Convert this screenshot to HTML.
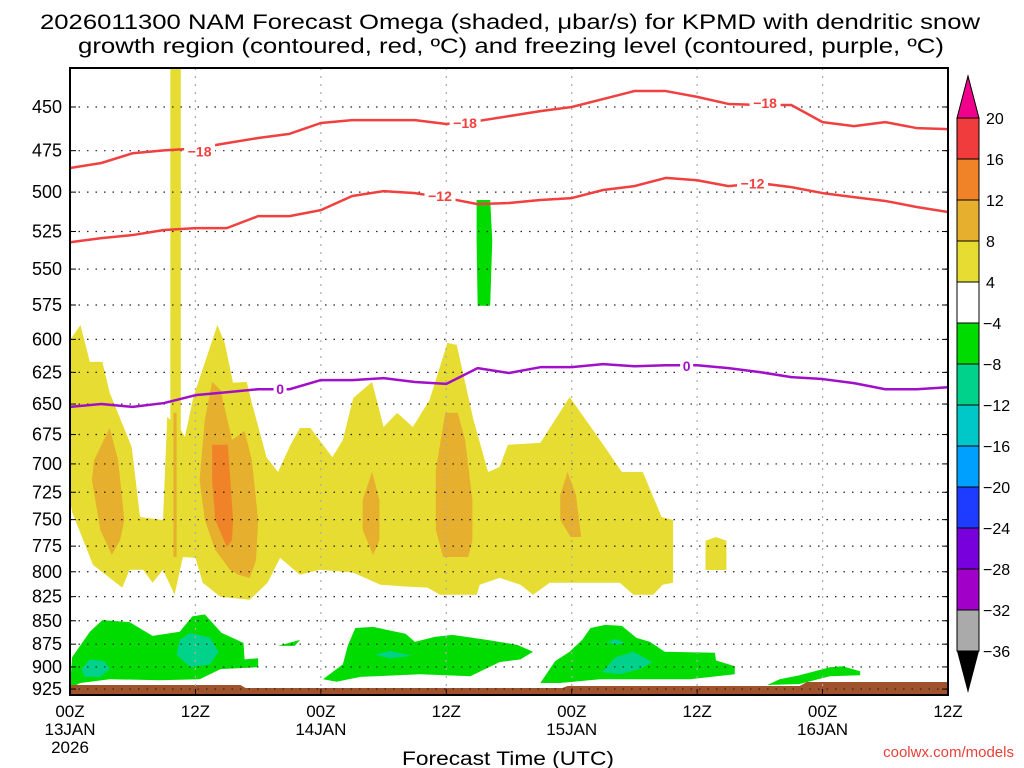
<!DOCTYPE html>
<html><head><meta charset="utf-8"><style>
body{margin:0;background:#fff;width:1024px;height:768px;overflow:hidden;font-family:"Liberation Sans",sans-serif}
svg{display:block}
</style></head><body>
<svg id="chart" width="1024" height="768">
<text x="510" y="29" font-size="21" text-anchor="middle" textLength="940" lengthAdjust="spacingAndGlyphs">2026011300 NAM Forecast Omega (shaded, μbar/s) for KPMD with dendritic snow</text>
<text x="511" y="53" font-size="21" text-anchor="middle" textLength="866" lengthAdjust="spacingAndGlyphs">growth region (contoured, red, ºC) and freezing level (contoured, purple, ºC)</text>
<g id="plot"></g>
<g id="axes"></g>
<g id="cbar"></g>
<text x="508" y="765" font-size="19" text-anchor="middle" textLength="212" lengthAdjust="spacingAndGlyphs">Forecast Time (UTC)</text>
<text x="1014" y="757" font-size="15" text-anchor="end" fill="#e8403a">coolwx.com/models</text>
</svg>
<script>
// ---- data ----
const pTicks=[450,475,500,525,550,575,600,625,650,675,700,725,750,775,800,825,850,875,900,925];
const xTickHours=[0,12,24,36,48,60,72,84];
const xTickTop=["00Z","12Z","00Z","12Z","00Z","12Z","00Z","12Z"];
const xTickMid=["13JAN","","14JAN","","15JAN","","16JAN",""];
const xTickBot=["2026","","","","","","",""];
const lineHours=[0,3,6,9,12,15,18,21,24,27,30,33,36,39,42,45,48,51,54,57,60,63,66,69,72,75,78,81,84];
const t18=[485.3,482.3,476.5,474.8,473.7,470.6,467.6,465.2,459.0,457.4,457.4,457.4,459.6,457.9,455.1,452.3,450,445.6,441.2,441.2,444.4,448.3,448.9,448.9,458.5,460.8,458.5,461.9,462.5];
const t12=[532.0,529.3,527.3,524.0,522.8,522.8,515.1,515.1,511.3,502.4,499.4,500.6,503.7,507.5,506.8,504.9,503.7,498.7,496.3,491.3,492.7,496.3,494.5,496.9,500.6,503.1,505.5,509.3,512.5];
const t0=[652.3,650.0,652.3,649.2,642.9,640.6,638.2,638.2,631.0,631.0,629.5,632.5,634.0,621.7,625.5,621.0,621.0,618.7,620.3,619.5,619.5,621.7,624.8,628.7,630.2,633.4,638.2,638.2,636.6];
const labels18=[[12.4,475.5],[37.8,459.0],[66.5,447.9]];
const labels12=[[35.4,502.4],[65.3,494.6]];
const labels0=[[20.1,638.1],[59,620.0]];
const levels=[20,16,12,8,4,-4,-8,-12,-16,-20,-24,-28,-32,-36];
const levelColors=["#f03c3c","#f08228","#e6af2d","#e6dc32","#ffffff","#00dc00","#00d28c","#00c8c8","#00a0ff","#1e3cff","#7800dc","#a000c8","#aaaaaa"];
const yellowMain=[[0,600.5],[1,589.4],[1.9,616.9],[3.1,616.9],[3.8,641.1],[5.9,685.4],[6.7,747.5],[8.9,750.3],[9.3,660.4],[9.6,662.9],[9.6,425],[10.6,425],[10.6,671.2],[11,677.0],[11.8,644.4],[14.1,589.4],[14.8,602.6],[15.6,633.1],[16.9,632.4],[17.5,652.3],[18.8,694.3],[19.9,707.0],[21.1,683.6],[22,669.6],[23,669.6],[25.1,694.3],[26.1,679.6],[27.1,645.2],[28.9,632.4],[30,668.7],[31.3,657.1],[32.8,668.7],[34.4,646.7],[36.1,602.6],[37,604.1],[38.6,662.9],[40,707.0],[41.1,702.7],[41.9,683.6],[45,682.0],[47.8,644.4],[50.7,679.6],[52.8,707.0],[54.8,707.0],[56.6,747.5],[57.7,750.3],[57.7,811.0],[56.7,812.9],[55.8,823.1],[53.9,823.1],[52.6,811.0],[45.9,811.0],[44.3,823.1],[43.1,812.9],[41.1,806.1],[39.2,812.9],[38.9,823.1],[35.4,823.1],[34.2,815.8],[32.2,814.8],[29.7,812.9],[27.1,800.9],[23.9,798.0],[22,803.0],[20.1,786.4],[18.9,811.0],[17.2,828.2],[14.4,825.2],[12.7,811.0],[12,786.4],[10.8,785.5],[10,823.1],[8.9,798.0],[7.9,811.0],[7,798.0],[5.7,798.0],[5,815.8],[2.2,793.2],[0.2,742.9],[0,732.0]];
const yellowSmall=[[60.8,798.2],[60.8,769.8],[61.8,766.3],[62.8,769.8],[62.8,798.2]];
const orangeA=[[3.8,669.6],[4.6,696.8],[5.2,750.3],[4.8,769.1],[4,783.6],[2.9,759.6],[2.1,714.1],[2.3,696.8]];
const orangeB=[[9.9,657.1],[10.2,657.1],[10.2,785.5],[9.9,785.5]];
const orangeC=[[13.6,632.4],[14.4,638.9],[15.5,679.6],[16.7,672.0],[17.4,696.8],[18,750.3],[17.8,788.5],[17.2,806.1],[16.1,803.0],[15.3,798.0],[13.9,778.7],[12.9,750.3],[12.4,714.1],[12.9,662.9]];
const darkOrangeD=[[13.6,683.6],[15.1,683.6],[15.6,750.3],[15.5,769.1],[15,775.7],[13.9,750.3],[13.6,714.1]];
const orangeE=[[28.9,707.0],[29.6,732.0],[29.6,769.1],[29,783.6],[28,759.6],[28,732.0]];
const orangeF=[[35.9,657.1],[37.1,657.1],[37.8,679.6],[38.5,732.0],[38.5,769.1],[38.1,785.5],[35.7,785.5],[35,759.6],[35,705.3]];
const orangeG=[[47.6,707.0],[48.4,727.5],[48.9,766.3],[47.9,766.3],[46.9,750.3],[46.9,727.5]];
const greenCol=[[38.9,504.9],[40.2,504.9],[40.4,530.8],[40.2,575.5],[39,575.5],[38.9,530.8]];
const green1=[[0.2,889.3],[1.9,861.7],[3.1,849.4],[5.7,851.4],[7.9,866.1],[10.5,861.7],[11.7,845.4],[12.9,843.3],[14.5,862.8],[16.6,873.6],[16.7,891.6],[18,890.4],[18,900.3],[14.4,902.5],[12.4,913.8],[8.6,914.9],[3.8,913.8],[1,918.1],[0,923.8]];
const teal1=[[1.9,891.6],[3.3,893.7],[3.8,902.5],[2.9,911.2],[1.4,911.2],[1.1,902.5]];
const teal2=[[11.5,862.8],[13.4,868.2],[14.2,883.3],[13.4,897.1],[11.5,900.3],[10.2,886.6],[10.5,870.3]];
const greenBlip=[[19.9,876.8],[22,870.4],[21.5,876.8]];
const green2=[[24.2,913.8],[26.1,897.1],[26.6,875.7],[27.3,857.6],[29,856.5],[32.1,863.8],[33,872.5],[34.9,867.1],[36.6,865.0],[39.9,870.4],[42.8,875.7],[44.3,883.3],[43.1,891.6],[41.1,894.7],[38.3,910.5],[33.5,908.2],[27.8,911.2],[25.5,916.6]];
const teal2b=[[29.2,886.6],[30.6,882.4],[32.7,887.7],[30.6,890.4]];
const green3=[[45,918.1],[46.4,893.7],[47.8,883.3],[49,870.4],[49.8,857.6],[51.2,854.4],[52.8,855.4],[54.2,868.2],[55.5,872.5],[56.9,883.3],[61.7,884.3],[61.8,892.7],[63.6,899.2],[63.6,908.2],[59.3,913.8],[50.7,913.8],[46.9,918.1]];
const teal3=[[51.4,872.5],[52.2,869.4],[53.1,873.6],[52.2,875.7]];
const teal4=[[50.9,905.8],[52.2,889.3],[53.9,883.3],[55.7,894.7],[54.5,902.5],[52.6,908.2]];
const green4=[[66.7,920.3],[67.9,913.8],[69.8,909.3],[72.7,900.3],[73.9,899.2],[75.6,904.8],[75.6,909.3],[72.7,910.5],[69.8,919.2]];
const ground=[[0,920.4],[16.3,920.4],[16.8,923.8],[47.1,923.8],[47.6,921.5],[69.8,921.5],[70.5,917.0],[84,917.0],[84,935],[0,935]];

// ---- axes ----
const X0=70,X1=948,H=84,Y0=68,Y1=695;
const x=h=>X0+h*(X1-X0)/H;
const y=p=>107+807.8*Math.log(p/450);
const NS='http://www.w3.org/2000/svg';
function mk(tag,parent){const e=document.createElementNS(NS,tag);parent.appendChild(e);return e;}
const plot=document.getElementById('plot'),axes=document.getElementById('axes'),cbar=document.getElementById('cbar');
const clip=mk('clipPath',plot);clip.setAttribute('id','pc');
const cr=mk('rect',clip);cr.setAttribute('x',X0);cr.setAttribute('y',Y0);cr.setAttribute('width',X1-X0);cr.setAttribute('height',Y1-Y0);
const g=mk('g',plot);g.setAttribute('clip-path','url(#pc)');
function poly(pts,fill,name){const e=mk('polygon',g);e.setAttribute('points',pts.map(q=>x(q[0])+','+y(q[1])).join(' '));e.setAttribute('fill',fill);

return e;}
poly(yellowMain,levelColors[3],'omega-4-8-main');
poly(yellowSmall,levelColors[3],'omega-4-8-small');
[orangeA,orangeB,orangeC,orangeE,orangeF,orangeG].forEach((r,i)=>poly(r,levelColors[2],'omega-8-12-region-'+i));
poly(darkOrangeD,levelColors[1],'omega-12-16-region');
poly(greenCol,levelColors[5],'omega-neg4-upper');
[green1,greenBlip,green2,green3,green4].forEach((r,i)=>poly(r,levelColors[5],'omega-neg4-region-'+i));
[teal1,teal2,teal2b,teal3,teal4].forEach((r,i)=>poly(r,levelColors[6],'omega-neg8-region-'+i));
poly(ground,'#a0522d','ground');
// grid
pTicks.forEach(p=>{const l=mk('line',g);l.setAttribute('x1',X0);l.setAttribute('x2',X1);l.setAttribute('y1',y(p));l.setAttribute('y2',y(p));l.setAttribute('stroke','#222');l.setAttribute('stroke-width','1.2');l.setAttribute('stroke-dasharray','1.5 7');

});
xTickHours.forEach(h=>{const l=mk('line',g);l.setAttribute('x1',x(h));l.setAttribute('x2',x(h));l.setAttribute('y1',Y0);l.setAttribute('y2',Y1);l.setAttribute('stroke','#aaa');l.setAttribute('stroke-width','1.2');l.setAttribute('stroke-dasharray','2 6');

});
// contour lines
function contour(vals,color,name,labs,txt){
 const pl=mk('polyline',g);pl.setAttribute('points',lineHours.map((h,i)=>x(h)+','+y(vals[i])).join(' '));
 pl.setAttribute('fill','none');pl.setAttribute('stroke',color);pl.setAttribute('stroke-width','2.5');pl.setAttribute('stroke-linejoin','round');
 
 
 labs.forEach(q=>{const w=txt.length*9+4;const r=mk('rect',g);r.setAttribute('x',x(q[0])-w/2);r.setAttribute('y',y(q[1])-8);r.setAttribute('width',w);r.setAttribute('height',16);r.setAttribute('fill','#fff');
  
  
  const t=mk('text',g);t.setAttribute('x',x(q[0]));t.setAttribute('y',y(q[1])+5);t.setAttribute('font-size','14');t.setAttribute('font-weight','bold');t.setAttribute('text-anchor','middle');t.setAttribute('fill',color);t.textContent=txt;
  
  });
}
contour(t18,'#f04040','contour-minus18',labels18,'−18');
contour(t12,'#f04040','contour-minus12',labels12,'−12');
contour(t0,'#a010c8','freezing-level-0',labels0,'0');
// frame
const fr=mk('rect',axes);fr.setAttribute('x',X0);fr.setAttribute('y',Y0);fr.setAttribute('width',X1-X0);fr.setAttribute('height',Y1-Y0);fr.setAttribute('fill','none');fr.setAttribute('stroke','#000');fr.setAttribute('stroke-width','2');


pTicks.forEach(p=>{const t=mk('text',axes);t.setAttribute('x',62);t.setAttribute('y',y(p)+6);t.setAttribute('font-size','18');t.setAttribute('text-anchor','end');t.textContent=p;


[[X0,X0+6],[X1-6,X1]].forEach(s=>{const l=mk('line',axes);l.setAttribute('x1',s[0]);l.setAttribute('x2',s[1]);l.setAttribute('y1',y(p));l.setAttribute('y2',y(p));l.setAttribute('stroke','#000');

});});
xTickHours.forEach((h,i)=>{[xTickTop[i],xTickMid[i],xTickBot[i]].forEach((s,j)=>{if(!s)return;const t=mk('text',axes);t.setAttribute('x',x(h));t.setAttribute('y',717+j*18);t.setAttribute('font-size','17');t.setAttribute('text-anchor','middle');t.textContent=s;

});
const l=mk('line',axes);l.setAttribute('x1',x(h));l.setAttribute('x2',x(h));l.setAttribute('y1',Y1-6);l.setAttribute('y2',Y1);l.setAttribute('stroke','#000');

});
// colorbar
const CB0=957,CBW=22,CBT=118,BH=41;
const up=mk('polygon',cbar);up.setAttribute('points',`${CB0},${CBT} ${CB0+CBW},${CBT} ${CB0+CBW/2},${CBT-42}`);up.setAttribute('fill','#f0008c');up.setAttribute('stroke','#000');


levelColors.forEach((c,i)=>{const r=mk('rect',cbar);r.setAttribute('x',CB0);r.setAttribute('y',CBT+i*BH);r.setAttribute('width',CBW);r.setAttribute('height',BH);r.setAttribute('fill',c);r.setAttribute('stroke','#000');

});
const bot=CBT+levelColors.length*BH;
const dn=mk('polygon',cbar);dn.setAttribute('points',`${CB0},${bot} ${CB0+CBW},${bot} ${CB0+CBW/2},${bot+42}`);dn.setAttribute('fill','#000');


levels.forEach((v,i)=>{const t=mk('text',cbar);t.setAttribute('x',v<0?983:986);t.setAttribute('y',CBT+i*BH+6);t.setAttribute('font-size','16');t.textContent=v<0?'−'+(-v):v;

});
</script>
</body></html>
